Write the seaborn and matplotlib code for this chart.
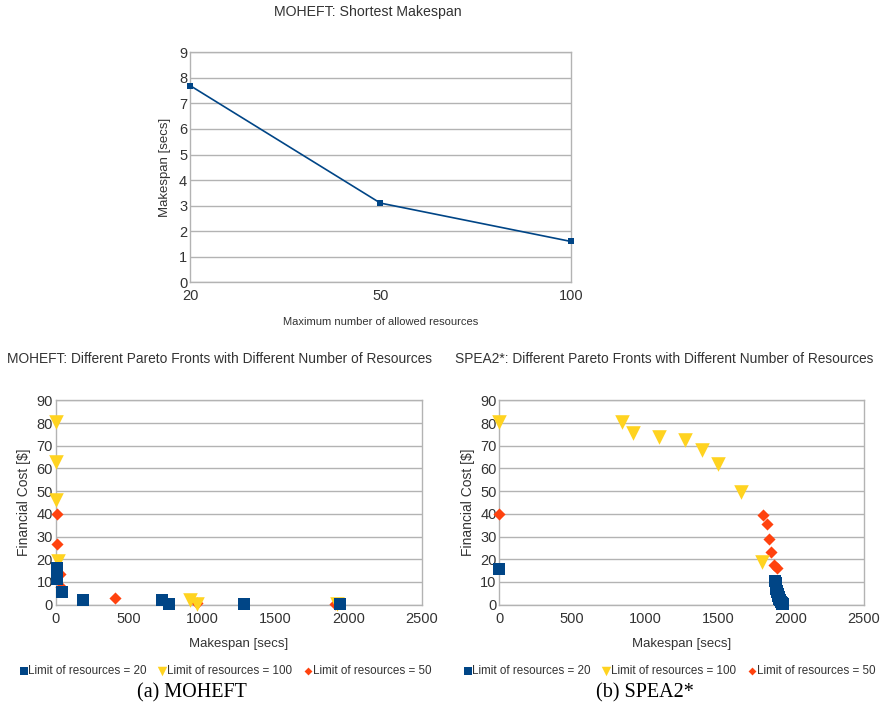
import matplotlib
matplotlib.use("Agg")
import matplotlib.pyplot as plt
import seaborn as sns
import pandas as pd

# ---------------- data ----------------
top_resources = ["20", "50", "100"]
top_makespan = [7.7, 3.1, 1.6]

# MOHEFT Pareto fronts
moheft_r20_x = [7, 10, 12, 12, 45, 189, 728, 771, 1288, 1941]
moheft_r20_y = [16, 14.5, 12.5, 11.2, 5.5, 2.1, 2.1, 0.3, 0.3, 0.3]
moheft_r100_x = [0, 0, 0, 18, 917, 967, 1918]
moheft_r100_y = [80.3, 63, 46, 19.4, 2.1, 0.5, 0.3]
moheft_r50_x = [7, 7, 30, 36, 405, 962, 1906]
moheft_r50_y = [40, 26.6, 13.4, 7.9, 2.8, 0.9, 0.3]

# SPEA2* Pareto fronts
spea_r20_x = [0, 1892, 1894, 1896, 1898, 1900, 1903, 1906, 1908, 1912, 1916,
              1920, 1925, 1930, 1935, 1940, 1945]
spea_r20_y = [15.9, 10.5, 9.5, 8.6, 7.8, 7.0, 6.2, 5.4, 4.7, 4.0, 3.3,
              2.6, 2.0, 1.4, 0.9, 0.5, 0.2]
spea_r100_x = [0, 839, 919, 1097, 1275, 1391, 1501, 1659, 1801]
spea_r100_y = [80.3, 80.3, 75.5, 74, 72.5, 68.1, 61.8, 49.8, 18.8]
spea_r50_x = [0, 1810, 1837, 1849, 1865, 1886, 1901]
spea_r50_y = [40, 39.6, 35.4, 28.8, 23.2, 17.3, 16.3]

legend_labels = ["Limit of resources = 20", "Limit of resources = 100",
                 "Limit of resources = 50"]

# ---------------- style ----------------
sns.set_theme(style="white")
plt.rcParams["font.family"] = ["Liberation Sans", "DejaVu Sans"]

BLUE = "#004586"
YELLOW = "#FFD320"
ORANGE = "#FF420E"
GRID = "#b3b3b3"
TXT = "#333333"

fig = plt.figure(figsize=(8.8, 7.13), dpi=100)


def style_axes(ax):
    for sp in ax.spines.values():
        sp.set_color(GRID)
        sp.set_linewidth(1.0)
    ax.yaxis.grid(True, color=GRID, linewidth=1.0)
    ax.xaxis.grid(False)
    ax.set_axisbelow(True)
    ax.tick_params(axis="both", colors=GRID, labelcolor=TXT, labelsize=10.5,
                   length=3, width=1, pad=2)
    ax.tick_params(axis="y", length=0)


# ---------------- top chart ----------------
ax0 = fig.add_axes([190 / 880, 1 - 282.3 / 713, 380.7 / 880, 230 / 713])
df_top = pd.DataFrame({"res": top_resources, "mk": top_makespan})
sns.lineplot(data=df_top, x="res", y="mk", ax=ax0, color=BLUE, linewidth=1.2,
             marker="s", markersize=4.5, markeredgewidth=0, sort=False)
for ln in ax0.lines:
    ln.set_clip_on(False)
    ln.set_zorder(5)
ax0.set_xlim(0, len(top_resources) - 1)
ax0.set_ylim(0, 9)
ax0.set_yticks(range(0, 10))
style_axes(ax0)
ax0.tick_params(axis="x", length=0, pad=5)
ax0.set_xlabel("Maximum number of allowed resources", fontsize=8, color=TXT,
               labelpad=10)
ax0.set_ylabel("Makespan [secs]", fontsize=9.5, color=TXT, labelpad=6)
fig.text(368 / 880, 1 - 12 / 713, "MOHEFT: Shortest Makespan", ha="center",
         va="center", fontsize=10.2, color=TXT)


# ---------------- bottom charts ----------------
def pareto(ax, r20x, r20y, r100x, r100y, r50x, r50y, title, title_x, leg_x,
           caption, cap_x):
    sns.scatterplot(x=r50x, y=r50y, ax=ax, marker="D", color=ORANGE, s=38,
                    linewidth=0, label=legend_labels[2], zorder=3)
    sns.scatterplot(x=r100x, y=r100y, ax=ax, marker="v", color=YELLOW, s=110,
                    linewidth=0, label=legend_labels[1], zorder=4)
    sns.scatterplot(x=r20x, y=r20y, ax=ax, marker="s", color=BLUE, s=75,
                    linewidth=0, label=legend_labels[0], zorder=5)
    for c in ax.collections:
        c.set_clip_on(False)
    ax.set_xlim(0, 2500)
    ax.set_ylim(0, 90)
    ax.set_xticks(range(0, 2501, 500))
    ax.set_yticks(range(0, 91, 10))
    style_axes(ax)
    ax.set_xlabel("Makespan [secs]", fontsize=9.5, color=TXT, labelpad=9)
    ax.set_ylabel("Financial Cost [$]", fontsize=10, color=TXT, labelpad=4)
    h, l = ax.get_legend_handles_labels()
    order = [l.index(x) for x in legend_labels]
    leg = ax.legend([h[i] for i in order], [l[i] for i in order],
                    loc="center", bbox_to_anchor=(leg_x, -0.325), ncol=3,
                    frameon=False, fontsize=8.4, handletextpad=-0.2,
                    columnspacing=0.75, markerscale=0.65, borderaxespad=0,
                    handlelength=1.2)
    for t in leg.get_texts():
        t.set_color(TXT)
    fig.text(title_x, 1 - 359 / 713, title, ha="left", va="center",
             fontsize=9.9, color=TXT)
    fig.text(cap_x, 1 - 693 / 713, caption, ha="center", va="center",
             fontsize=14.5, color="black",
             family=["Liberation Serif", "DejaVu Serif"])


ax1 = fig.add_axes([55.7 / 880, 1 - 604.7 / 713, 366.3 / 880, 204.4 / 713])
pareto(ax1, moheft_r20_x, moheft_r20_y, moheft_r100_x, moheft_r100_y,
       moheft_r50_x, moheft_r50_y,
       "MOHEFT: Different Pareto Fronts with Different Number of Resources",
       7 / 880, 0.459, "(a) MOHEFT", 192 / 880)

ax2 = fig.add_axes([499.3 / 880, 1 - 604.7 / 713, 364.7 / 880, 204.4 / 713])
pareto(ax2, spea_r20_x, spea_r20_y, spea_r100_x, spea_r100_y,
       spea_r50_x, spea_r50_y,
       "SPEA2*: Different Pareto Fronts with Different Number of Resources",
       455 / 880, 0.462, "(b) SPEA2*", 645 / 880)

fig.savefig("out.png", dpi=100)
